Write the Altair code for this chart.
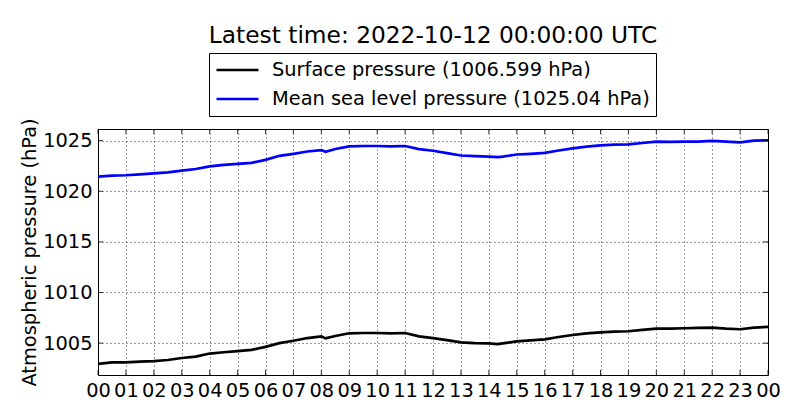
import altair as alt
import pandas as pd

# hours since 2022-10-11 00:00 UTC
hours = [0, 0.5, 1, 1.5, 2, 2.5, 3, 3.5, 4, 4.5, 5, 5.5, 6, 6.5, 7, 7.5, 8, 8.15,
         8.5, 9, 9.5, 10, 10.5, 11, 11.5, 12, 12.5, 13, 13.5, 14, 14.3, 14.5, 15,
         15.5, 16, 16.5, 17, 17.5, 18, 18.5, 19, 19.5, 20, 20.5, 21, 21.5, 22,
         22.5, 23, 23.5, 24]

surface = [1002.95, 1003.1, 1003.1, 1003.17, 1003.23, 1003.33, 1003.53, 1003.67,
           1003.97, 1004.1, 1004.2, 1004.33, 1004.63, 1005.0, 1005.23, 1005.5,
           1005.67, 1005.47, 1005.7, 1005.97, 1006.0, 1006.0, 1005.97, 1006.0,
           1005.67, 1005.5, 1005.3, 1005.07, 1005.0, 1004.97, 1004.9, 1004.97,
           1005.17, 1005.27, 1005.37, 1005.6, 1005.8, 1005.97, 1006.07, 1006.13,
           1006.17, 1006.3, 1006.43, 1006.43, 1006.47, 1006.5, 1006.53, 1006.43,
           1006.37, 1006.53, 1006.599]

msl = [1021.45, 1021.55, 1021.58, 1021.67, 1021.77, 1021.87, 1022.03, 1022.2,
       1022.45, 1022.6, 1022.7, 1022.8, 1023.1, 1023.5, 1023.7, 1023.93,
       1024.07, 1023.9, 1024.17, 1024.43, 1024.47, 1024.47, 1024.43, 1024.47,
       1024.17, 1024.0, 1023.77, 1023.53, 1023.47, 1023.43, 1023.37, 1023.43,
       1023.63, 1023.7, 1023.8, 1024.03, 1024.23, 1024.4, 1024.53, 1024.6,
       1024.63, 1024.77, 1024.9, 1024.87, 1024.9, 1024.9, 1024.97, 1024.9,
       1024.83, 1025.0, 1025.04]

series_labels = ["Surface pressure (1006.599 hPa)",
                 "Mean sea level pressure (1025.04 hPa)"]
series_colors = ["#000000", "#0000ff"]

x_ticks = list(range(25))
y_ticks = [1005, 1010, 1015, 1020, 1025]
y_domain = [1001.85, 1026.15]
title_text = "Latest time: 2022-10-12 00:00:00 UTC"

W, H = 670, 246
FONT = "DejaVu Sans"

rows = []
for h, s in zip(hours, surface):
    rows.append({"hour": h, "pressure": s, "series": series_labels[0]})
for h, m in zip(hours, msl):
    rows.append({"hour": h, "pressure": m, "series": series_labels[1]})
df = pd.DataFrame(rows)

xscale = alt.Scale(domain=[0, 24], nice=False, zero=False)
yscale = alt.Scale(domain=y_domain, nice=False, zero=False)

label_expr = "(datum.value % 24) < 10 ? '0' + (datum.value % 24) : '' + (datum.value % 24)"

x_axis = alt.Axis(values=x_ticks, labelExpr=label_expr, title=None,
                  grid=True, ticks=False, domain=False,
                  labelFontSize=19.4, labelFont=FONT, labelColor="black",
                  labelPadding=6, labelFlush=False, labelOverlap=False)
y_axis = alt.Axis(values=y_ticks, format="d",
                  title="Atmospheric pressure (hPa)",
                  grid=True, ticks=False, domain=False,
                  labelFontSize=19.4, labelFont=FONT, labelColor="black",
                  labelPadding=6, titleFontSize=19.4, titleFont=FONT,
                  titleFontWeight="normal", titleColor="black",
                  titlePadding=3, labelFlush=False)

lines = alt.Chart(df).mark_line(strokeWidth=2.7, clip=True).encode(
    x=alt.X("hour:Q", scale=xscale, axis=x_axis),
    y=alt.Y("pressure:Q", scale=yscale, axis=y_axis),
    color=alt.Color("series:N",
                    scale=alt.Scale(domain=series_labels, range=series_colors),
                    sort=series_labels,
                    legend=alt.Legend(title=None, orient="none", legendX=111,
                                      legendY=-76, direction="vertical",
                                      strokeColor="black", fillColor="white",
                                      padding=6, symbolType="stroke",
                                      symbolSize=1764, symbolStrokeWidth=2.5,
                                      clipHeight=22,
                                      labelFontSize=19.4, labelFont=FONT,
                                      labelColor="black", labelOffset=12,
                                      rowPadding=7, labelLimit=500)),
    detail="series:N",
)

xt = pd.DataFrame({"hour": x_ticks})
yt = pd.DataFrame({"pressure": y_ticks})

xtick_bottom = alt.Chart(xt).mark_rule(color="black", strokeWidth=0.8).encode(
    x=alt.X("hour:Q", scale=xscale, axis=x_axis), y=alt.value(H), y2=alt.value(H - 5))
xtick_top = alt.Chart(xt).mark_rule(color="black", strokeWidth=0.8).encode(
    x=alt.X("hour:Q", scale=xscale, axis=x_axis), y=alt.value(0), y2=alt.value(5))
ytick_left = alt.Chart(yt).mark_rule(color="black", strokeWidth=0.8).encode(
    y=alt.Y("pressure:Q", scale=yscale, axis=y_axis), x=alt.value(0), x2=alt.value(5))
ytick_right = alt.Chart(yt).mark_rule(color="black", strokeWidth=0.8).encode(
    y=alt.Y("pressure:Q", scale=yscale, axis=y_axis), x=alt.value(W), x2=alt.value(W - 5))

chart = alt.layer(lines, xtick_bottom, xtick_top, ytick_left, ytick_right).properties(
    width=W, height=H,
    autosize=alt.AutoSizeParams(type="none"),
    padding={"left": 90, "top": 121, "right": 24, "bottom": 37},
    title=alt.TitleParams(text=title_text, fontSize=23.3, font=FONT,
                          fontWeight="normal", color="black", anchor="middle",
                          baseline="alphabetic", offset=-14),
    background="white",
).configure_view(stroke="black", strokeWidth=1).configure_axis(
    gridColor="black", gridDash=[1, 3], gridWidth=0.8, gridOpacity=1
)

chart.save("out.html", embed_options={"renderer": "svg", "actions": False})
